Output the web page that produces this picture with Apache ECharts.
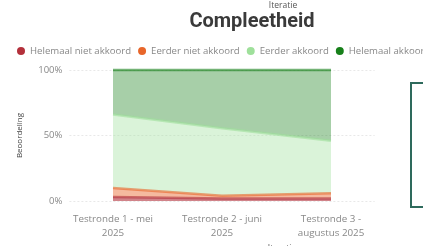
<!DOCTYPE html>
<html>
<head>
<meta charset="utf-8">
<script src="https://cdn.jsdelivr.net/npm/echarts@6/dist/echarts.min.js"></script>
<style>
  html, body { margin: 0; padding: 0; background: #fff; }
  #chart { width: 423px; height: 246px; }
</style>
</head>
<body>
<div id="chart"></div>
<script>
// iteraties (x-as)
const categories = ['Testronde 1 - mei\n2025', 'Testronde 2 - juni\n2025', 'Testronde 3 -\naugustus 2025'];
const seriesNames = ['Helemaal niet akkoord', 'Eerder niet akkoord', 'Eerder akkoord', 'Helemaal akkoord'];
// aandeel per beoordeling in %
const helemaalNiet = [3, 2, 2];
const eerderNiet = [7, 2, 4];
const eerderAkkoord = [56, 51.5, 40];
const helemaalAkkoord = [34, 44.5, 54];
const yTicks = [0, 50, 100];

const colors = ['#b3303b', '#e8662a', '#9fe09b', '#17801a'];
const areaOpacity = [0.6, 0.45, 0.38, 0.38];
const values = [helemaalNiet, eerderNiet, eerderAkkoord, helemaalAkkoord];
const font = "'Segoe UI', 'Open Sans', sans-serif";

const chart = echarts.init(document.getElementById('chart'));
chart.setOption({
  animation: false,
  textStyle: { fontFamily: font },
  title: [
    { text: 'Compleetheid', left: 247, top: 7, textAlign: 'center',
      textStyle: { fontFamily: 'Roboto', fontWeight: 'bold', fontSize: 20, color: '#3a3a3a' } },
    { text: 'Iteratie', left: 278, top: -4, textAlign: 'center',
      textStyle: { fontFamily: font, fontWeight: 'normal', fontSize: 8.5, color: '#555' } },
    { text: 'Iteratie', left: 277, top: 239, textAlign: 'center',
      textStyle: { fontFamily: font, fontWeight: 'normal', fontSize: 8.5, color: '#555' } }
  ],
  legend: {
    left: 12, top: 41, width: 800,
    icon: 'circle', itemWidth: 8, itemHeight: 8, itemGap: 7,
    textStyle: { fontSize: 9.6, color: '#888', fontFamily: font },
    data: seriesNames
  },
  grid: { left: 69.4, top: 70, width: 305.2, height: 131, containLabel: false },
  xAxis: {
    type: 'value', min: -0.4, max: 2.4,
    splitLine: { show: false }, axisLine: { show: false }, axisTick: { show: false },
    axisLabel: {
      customValues: [0, 1, 2],
      formatter: v => categories[Math.round(v)],
      color: '#888', fontSize: 9.8, lineHeight: 14, margin: 11
    }
  },
  yAxis: {
    type: 'value', min: 0, max: 100, interval: 50,
    name: 'Beoordeling', nameLocation: 'middle', nameGap: 46, nameRotate: 90,
    nameTextStyle: { fontSize: 8, color: '#444' },
    axisLine: { show: false }, axisTick: { show: false },
    axisLabel: { formatter: v => yTicks.includes(v) ? v + '%' : '', color: '#888', fontSize: 9.5, margin: 7 },
    splitLine: { lineStyle: { color: '#e8e8e8', type: [2, 2], width: 1 } }
  },
  series: seriesNames.map((name, i) => ({
    name, type: 'line', stack: 'totaal',
    // y-waarde eerst zodat de stapeling op de y-dimensie gebeurt
    data: values[i].map((v, j) => [v, j]),
    encode: { x: 1, y: 0 },
    color: colors[i],
    symbol: 'none',
    clip: false,
    lineStyle: { width: 2.5, color: colors[i], opacity: 0.6 },
    areaStyle: { color: colors[i], opacity: areaOpacity[i] }
  })),
  graphic: [{
    type: 'rect', shape: { x: 411, y: 83, width: 40, height: 124 },
    style: { fill: 'none', stroke: '#2e6a5c', lineWidth: 2 }
  }]
});
</script>
</body>
</html>
